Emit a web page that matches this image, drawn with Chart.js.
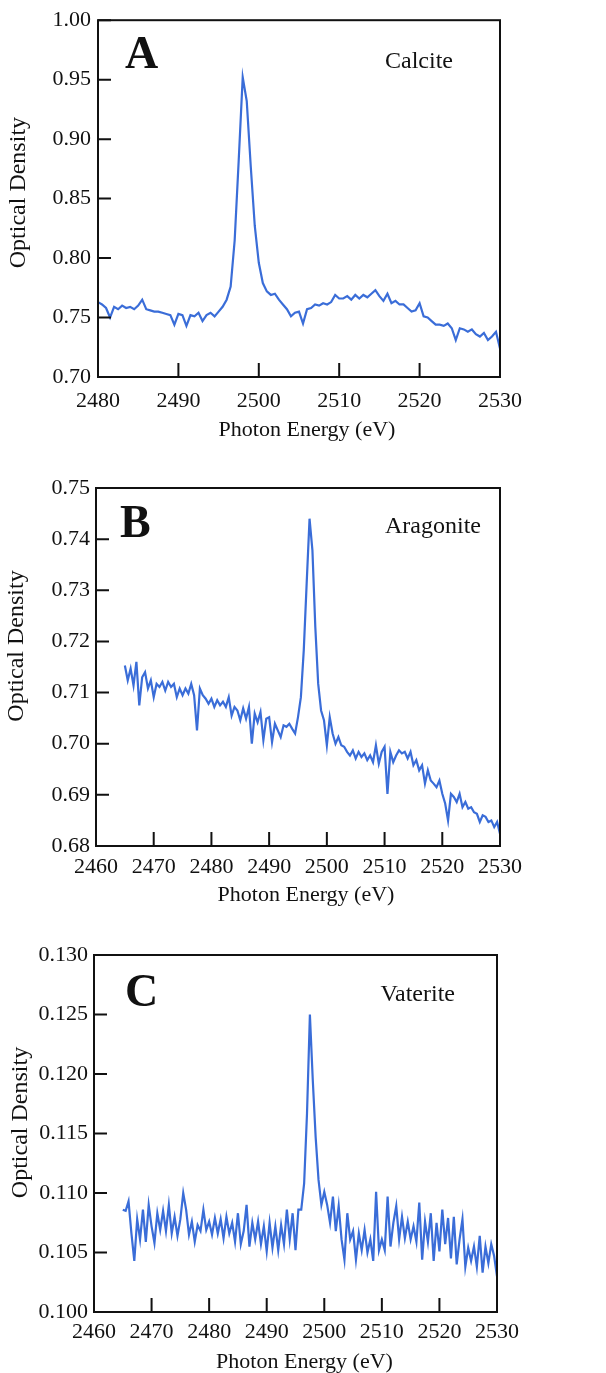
<!DOCTYPE html>
<html>
<head>
<meta charset="utf-8">
<script src="https://cdn.jsdelivr.net/npm/chart.js@4.4.1/dist/chart.umd.min.js"></script>
<style>
  html, body { margin: 0; background: #fff; overflow: hidden; }
  .panel { position: absolute; left: 0; width: 606px; }
</style>
</head>
<body>
<div class="panel" style="top:0"><canvas id="chartA" width="606" height="450"></canvas></div>
<div class="panel" style="top:450px"><canvas id="chartB" width="606" height="470"></canvas></div>
<div class="panel" style="top:920px"><canvas id="chartC" width="606" height="470"></canvas></div>
<script>
const energyA = [
  2480, 2480.5, 2481, 2481.5, 2482, 2482.5, 2483, 2483.5, 2484, 2484.5,
  2485, 2485.5, 2486, 2486.5, 2487, 2487.5, 2488, 2488.5, 2489, 2489.5,
  2490, 2490.5, 2491, 2491.5, 2492, 2492.5, 2493, 2493.5, 2494, 2494.5,
  2495, 2495.5, 2496, 2496.5, 2497, 2497.5, 2498, 2498.5, 2499, 2499.5,
  2500, 2500.5, 2501, 2501.5, 2502, 2502.5, 2503, 2503.5, 2504, 2504.5,
  2505, 2505.5, 2506, 2506.5, 2507, 2507.5, 2508, 2508.5, 2509, 2509.5,
  2510, 2510.5, 2511, 2511.5, 2512, 2512.5, 2513, 2513.5, 2514, 2514.5,
  2515, 2515.5, 2516, 2516.5, 2517, 2517.5, 2518, 2518.5, 2519, 2519.5,
  2520, 2520.5, 2521, 2521.5, 2522, 2522.5, 2523, 2523.5, 2524, 2524.5,
  2525, 2525.5, 2526, 2526.5, 2527, 2527.5, 2528, 2528.5, 2529, 2529.5,
  2530
];
const calcite = [
  0.763, 0.761, 0.758, 0.750, 0.759, 0.757, 0.760, 0.758, 0.759, 0.757,
  0.760, 0.765, 0.757, 0.756, 0.755, 0.755, 0.754, 0.753, 0.752, 0.744,
  0.753, 0.752, 0.743, 0.752, 0.751, 0.754, 0.747, 0.752, 0.754, 0.751,
  0.755, 0.759, 0.765, 0.776, 0.815, 0.882, 0.952, 0.932, 0.877, 0.827,
  0.796, 0.779, 0.772, 0.769, 0.770, 0.765, 0.761, 0.757, 0.751, 0.754,
  0.755, 0.745, 0.757, 0.758, 0.761, 0.760, 0.762, 0.761, 0.763, 0.769,
  0.766, 0.766, 0.768, 0.765, 0.769, 0.766, 0.769, 0.767, 0.770, 0.773,
  0.768, 0.764, 0.770, 0.762, 0.764, 0.761, 0.761, 0.758, 0.755, 0.756,
  0.762, 0.751, 0.750, 0.747, 0.744, 0.744, 0.743, 0.745, 0.741, 0.731,
  0.741, 0.740, 0.738, 0.740, 0.736, 0.734, 0.737, 0.731, 0.734, 0.738,
  0.724
];

const energyBC = [
  2465, 2465.5, 2466, 2466.5, 2467, 2467.5, 2468, 2468.5, 2469, 2469.5,
  2470, 2470.5, 2471, 2471.5, 2472, 2472.5, 2473, 2473.5, 2474, 2474.5,
  2475, 2475.5, 2476, 2476.5, 2477, 2477.5, 2478, 2478.5, 2479, 2479.5,
  2480, 2480.5, 2481, 2481.5, 2482, 2482.5, 2483, 2483.5, 2484, 2484.5,
  2485, 2485.5, 2486, 2486.5, 2487, 2487.5, 2488, 2488.5, 2489, 2489.5,
  2490, 2490.5, 2491, 2491.5, 2492, 2492.5, 2493, 2493.5, 2494, 2494.5,
  2495, 2495.5, 2496, 2496.5, 2497, 2497.5, 2498, 2498.5, 2499, 2499.5,
  2500, 2500.5, 2501, 2501.5, 2502, 2502.5, 2503, 2503.5, 2504, 2504.5,
  2505, 2505.5, 2506, 2506.5, 2507, 2507.5, 2508, 2508.5, 2509, 2509.5,
  2510, 2510.5, 2511, 2511.5, 2512, 2512.5, 2513, 2513.5, 2514, 2514.5,
  2515, 2515.5, 2516, 2516.5, 2517, 2517.5, 2518, 2518.5, 2519, 2519.5,
  2520, 2520.5, 2521, 2521.5, 2522, 2522.5, 2523, 2523.5, 2524, 2524.5,
  2525, 2525.5, 2526, 2526.5, 2527, 2527.5, 2528, 2528.5, 2529, 2529.5,
  2530
];
const aragonite = [
  0.7153, 0.7124, 0.7147, 0.7114, 0.7160, 0.7075, 0.7130, 0.7140, 0.7108, 0.7124,
  0.7091, 0.7117, 0.7111, 0.7121, 0.7104, 0.7121, 0.7111, 0.7117, 0.7091, 0.7108,
  0.7095, 0.7108, 0.7098, 0.7117, 0.7095, 0.7026, 0.7108, 0.7095, 0.7088, 0.7078,
  0.7088, 0.7072, 0.7085, 0.7075, 0.7082, 0.7072, 0.7091, 0.7055, 0.7072, 0.7065,
  0.7046, 0.7069, 0.7049, 0.7072, 0.7000, 0.7059, 0.7042, 0.7062, 0.7007, 0.7049,
  0.7052, 0.7003, 0.7039, 0.7026, 0.7013, 0.7036, 0.7033, 0.7039, 0.7029, 0.7020,
  0.7052, 0.7091, 0.7183, 0.7313, 0.7440, 0.7378, 0.7228, 0.7117, 0.7065, 0.7046,
  0.6997, 0.7052, 0.7020, 0.7000, 0.7013, 0.6997, 0.6994, 0.6984, 0.6977, 0.6987,
  0.6971, 0.6984, 0.6974, 0.6981, 0.6968, 0.6977, 0.6964, 0.6997, 0.6961, 0.6984,
  0.6994, 0.6902, 0.6984, 0.6964, 0.6977, 0.6987, 0.6981, 0.6984, 0.6971, 0.6984,
  0.6958, 0.6968, 0.6948, 0.6958, 0.6922, 0.6948, 0.6928, 0.6922, 0.6915, 0.6928,
  0.6902, 0.6883, 0.6850, 0.6902, 0.6896, 0.6886, 0.6902, 0.6876, 0.6886, 0.6873,
  0.6876, 0.6866, 0.6863, 0.6847, 0.6860, 0.6857, 0.6847, 0.6850, 0.6837, 0.6847,
  0.6824
];
const vaterite = [
  0.1086, 0.1085, 0.1093, 0.1066, 0.1043, 0.1078, 0.1061, 0.1086, 0.1059, 0.1090,
  0.1072, 0.1058, 0.1083, 0.1069, 0.1085, 0.1068, 0.1090, 0.1066, 0.1080, 0.1064,
  0.1078, 0.1100, 0.1086, 0.1065, 0.1076, 0.1059, 0.1073, 0.1068, 0.1086, 0.1069,
  0.1076, 0.1065, 0.1079, 0.1066, 0.1078, 0.1062, 0.1080, 0.1066, 0.1075, 0.1059,
  0.1083, 0.1057, 0.1068, 0.1090, 0.1055, 0.1075, 0.1061, 0.1076, 0.1057, 0.1072,
  0.1051, 0.1075, 0.1054, 0.1072, 0.1052, 0.1073, 0.1057, 0.1086, 0.1061, 0.1083,
  0.1052, 0.1086, 0.1086, 0.1108, 0.1167, 0.1250, 0.1195, 0.1147, 0.1111, 0.1090,
  0.1101, 0.1090, 0.1075, 0.1097, 0.1068, 0.1089, 0.1061, 0.1044, 0.1083, 0.1061,
  0.1068, 0.1044, 0.1066, 0.1052, 0.1069, 0.1050, 0.1061, 0.1043, 0.1101, 0.1052,
  0.1061, 0.1052, 0.1097, 0.1055, 0.1075, 0.1089, 0.1061, 0.1080, 0.1062, 0.1076,
  0.1061, 0.1072, 0.1059, 0.1092, 0.1044, 0.1076, 0.1059, 0.1083, 0.1043, 0.1075,
  0.1051, 0.1086, 0.1057, 0.1079, 0.1045, 0.1080, 0.1040, 0.1061, 0.1078, 0.1038,
  0.1054, 0.1043, 0.1055, 0.1038, 0.1064, 0.1033, 0.1055, 0.1041, 0.1057, 0.1047,
  0.1030
];

const xTitle = 'Photon Energy (eV)';
const yTitle = 'Optical Density';
const serif = '"Liberation Serif", "Times New Roman", serif';
const ink = '#111';

// frame, inward ticks, panel letter, mineral name and axis titles
const framePlugin = {
  id: 'frame',
  afterDatasetsDraw(chart, args, o) {
    const {ctx, chartArea: a, scales: {x, y}} = chart;
    ctx.save();
    ctx.strokeStyle = ink;
    ctx.lineWidth = 2;
    ctx.strokeRect(a.left, a.top, a.right - a.left, a.bottom - a.top);
    ctx.beginPath();
    x.ticks.forEach(t => {
      const px = x.getPixelForValue(t.value);
      ctx.moveTo(px, a.bottom);
      ctx.lineTo(px, a.bottom - 14);
    });
    y.ticks.forEach(t => {
      const py = y.getPixelForValue(t.value);
      ctx.moveTo(a.left, py);
      ctx.lineTo(a.left + 13, py);
    });
    ctx.stroke();

    ctx.fillStyle = ink;
    ctx.textBaseline = 'alphabetic';
    ctx.textAlign = 'left';
    ctx.font = 'bold 46px ' + serif;
    ctx.fillText(o.letter, a.left + o.letterAt[0], a.top + o.letterAt[1]);
    ctx.textAlign = 'right';
    ctx.font = '24px ' + serif;
    ctx.fillText(o.name, a.right - o.nameAt[0], a.top + o.nameAt[1]);

    ctx.textAlign = 'center';
    ctx.textBaseline = 'middle';
    ctx.font = '22px ' + serif;
    ctx.fillText(xTitle, (a.left + a.right) / 2 + o.xTitleAt[0], a.bottom + o.xTitleAt[1]);
    ctx.translate(o.yTitleAt[0], (a.top + a.bottom) / 2 + o.yTitleAt[1]);
    ctx.rotate(-Math.PI / 2);
    ctx.font = '24px ' + serif;
    ctx.fillText(yTitle, 0, 0);
    ctx.restore();
  }
};

function makeChart(id, energies, values, p) {
  return new Chart(document.getElementById(id), {
    type: 'line',
    data: {
      datasets: [{
        data: energies.map((e, i) => ({x: e, y: values[i]})),
        borderColor: '#3a6dd8',
        borderWidth: 2.2,
        pointRadius: 0,
        tension: 0,
        fill: false
      }]
    },
    options: {
      responsive: false,
      animation: false,
      layout: {padding: {top: p.top, right: p.right, bottom: 0, left: 0}},
      plugins: {
        legend: {display: false},
        tooltip: {enabled: false},
        frame: p.frame
      },
      scales: {
        x: {
          type: 'linear',
          min: p.xMin, max: p.xMax,
          grid: {display: false, drawTicks: false},
          border: {display: false},
          ticks: {stepSize: 10, padding: p.xPad, color: ink, maxRotation: 0, font: {family: serif, size: 22}, callback: v => String(v)},
          afterFit: s => { s.height = p.xAxisH; }
        },
        y: {
          min: p.yMin, max: p.yMax,
          grid: {display: false, drawTicks: false},
          border: {display: false},
          ticks: {stepSize: p.yStep, padding: p.yPad, color: ink, font: {family: serif, size: 22}, callback: v => v.toFixed(p.dec)},
          afterFit: s => { s.width = p.yAxisW; }
        }
      }
    },
    plugins: [framePlugin]
  });
}

makeChart('chartA', energyA, calcite, {
  top: 20, right: 106, xAxisH: 73, yAxisW: 98, xPad: 11, yPad: 7,
  xMin: 2480, xMax: 2530, yMin: 0.70, yMax: 1.00, yStep: 0.05, dec: 2,
  frame: {letter: 'A', name: 'Calcite', letterAt: [27, 48], nameAt: [47, 48], xTitleAt: [8, 53], yTitleAt: [19, -6]}
});
makeChart('chartB', energyBC, aragonite, {
  top: 38, right: 106, xAxisH: 74, yAxisW: 96, xPad: 8, yPad: 6,
  xMin: 2460, xMax: 2530, yMin: 0.68, yMax: 0.75, yStep: 0.01, dec: 2,
  frame: {letter: 'B', name: 'Aragonite', letterAt: [24, 49], nameAt: [19, 45], xTitleAt: [8, 49], yTitleAt: [17, -21]}
});
makeChart('chartC', energyBC, vaterite, {
  top: 35, right: 109, xAxisH: 78, yAxisW: 94, xPad: 7, yPad: 6,
  xMin: 2460, xMax: 2530, yMin: 0.100, yMax: 0.130, yStep: 0.005, dec: 3,
  frame: {letter: 'C', name: 'Vaterite', letterAt: [31, 51], nameAt: [42, 46], xTitleAt: [9, 50], yTitleAt: [21, -11]}
});
</script>
</body>
</html>
